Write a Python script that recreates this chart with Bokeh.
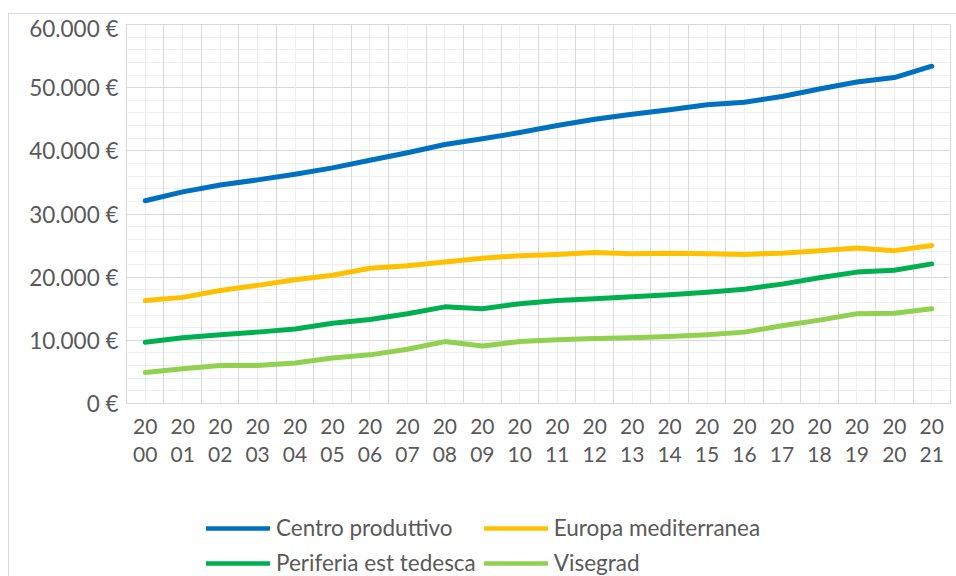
from bokeh.plotting import figure
from bokeh.layouts import column
from bokeh.models import FixedTicker, Grid, Legend, LegendItem, ColumnDataSource, Range1d
from bokeh.embed import file_html
from bokeh.resources import INLINE

years = [str(y) for y in range(2000, 2022)]
centro = [32100, 33500, 34600, 35400, 36300, 37300, 38500, 39700, 41000, 41900, 42900,
          44000, 45000, 45800, 46500, 47300, 47700, 48600, 49800, 50900, 51600, 53400]
europa = [16300, 16800, 17900, 18700, 19600, 20300, 21400, 21800, 22400, 23000, 23400,
          23600, 23900, 23700, 23800, 23700, 23600, 23800, 24200, 24600, 24200, 25000]
periferia = [9700, 10400, 10900, 11300, 11800, 12700, 13300, 14200, 15300, 15000, 15800,
             16300, 16600, 16900, 17200, 17600, 18100, 18900, 19900, 20800, 21100, 22100]
visegrad = [4900, 5500, 6000, 6000, 6400, 7200, 7700, 8600, 9800, 9100, 9800,
            10100, 10300, 10400, 10600, 10900, 11300, 12300, 13200, 14200, 14300, 15000]
series_names = ["Centro produttivo", "Europa mediterranea", "Periferia est tedesca", "Visegrad"]
series_keys = ["centro", "europa", "periferia", "visegrad"]
series_colors = ["#0070C0", "#FFC000", "#00B050", "#92D050"]
y_ticks = [0, 10000, 20000, 30000, 40000, 50000, 60000]
y_minor = list(range(0, 60001, 2000))
y_labels = [f"{v:,}".replace(",", ".") + " €" for v in y_ticks]
x_labels = [y[:2] + "\n" + y[2:] for y in years]

xs = list(range(len(years)))
src = ColumnDataSource(dict(x=xs, centro=centro, europa=europa, periferia=periferia, visegrad=visegrad))

FONT = "Lato"
TXT = "#595959"

p = figure(width=948, height=476, output_backend="svg", toolbar_location=None,
           x_range=Range1d(-0.5, len(years) - 0.5), y_range=Range1d(0, 60000),
           min_border_left=117, min_border_right=7, min_border_top=10, min_border_bottom=87)
p.outline_line_color = "#d9d9d9"
p.outline_line_width = 1

# grids
p.xgrid.visible = False
minor_x = Grid(dimension=0, ticker=FixedTicker(ticks=xs), grid_line_color="#efefef", grid_line_width=1)
major_x = Grid(dimension=0, ticker=FixedTicker(ticks=[i - 0.5 for i in range(len(years) + 1)]),
               grid_line_color="#d9d9d9", grid_line_width=1)
p.add_layout(minor_x)
p.add_layout(major_x)
p.ygrid.ticker = FixedTicker(ticks=y_ticks, minor_ticks=y_minor)
p.ygrid.grid_line_color = "#d9d9d9"
p.ygrid.minor_grid_line_color = "#efefef"

# axes
p.xaxis.ticker = FixedTicker(ticks=xs)
p.xaxis.major_label_overrides = {i: lab for i, lab in zip(xs, x_labels)}
p.xaxis.axis_line_color = "#d9d9d9"
p.xaxis.major_tick_line_color = None
p.xaxis.minor_tick_line_color = None
p.xaxis.major_label_standoff = 3
p.xaxis.major_label_text_font_size = "21px"
p.xaxis.major_label_text_line_height = 1.15
p.yaxis.ticker = FixedTicker(ticks=y_ticks)
p.yaxis.major_label_overrides = {v: lab for v, lab in zip(y_ticks, y_labels)}
p.yaxis.axis_line_color = None
p.yaxis.major_tick_line_color = None
p.yaxis.minor_tick_line_color = None
p.yaxis.major_label_standoff = 2
p.yaxis.major_label_text_font_size = "22.5px"
for ax in (p.xaxis[0], p.yaxis[0]):
    ax.major_label_text_font = FONT
    ax.major_label_text_color = TXT

for key, color in zip(series_keys, series_colors):
    p.line("x", key, source=src, line_color=color, line_width=5,
           line_join="round", line_cap="round")

# legend panel (separate figure below the chart)
lf = figure(width=948, height=87, output_backend="svg", toolbar_location=None,
            x_range=Range1d(100, 101), y_range=Range1d(0, 1),
            min_border_left=0, min_border_right=0, min_border_top=0, min_border_bottom=0)
lf.axis.visible = False
lf.grid.visible = False
lf.outline_line_color = None
leg_renderers = []
for key, color in zip(series_keys, series_colors):
    r = lf.line("x", key, source=src, line_color=color, line_width=4.5, line_cap="round")
    leg_renderers.append(r)

legend = Legend(items=[LegendItem(label=n, renderers=[r]) for n, r in zip(series_names, leg_renderers)],
                orientation="horizontal", nrows=2, location=(80, 1),
                padding=0, margin=0, spacing=8, border_line_color=None, background_fill_alpha=0,
                glyph_width=64, glyph_height=24, label_height=24, label_standoff=6,
                label_text_font=FONT, label_text_font_size="22.5px", label_text_color=TXT)
lf.add_layout(legend, "center")

layout = column(p, lf, spacing=0)
layout.margin = (13, 0, 0, 8)
layout.styles = {"border-left": "1px solid #d9d9d9", "border-top": "1px solid #d9d9d9"}

open("out.html", "w").write(file_html(layout, INLINE))
